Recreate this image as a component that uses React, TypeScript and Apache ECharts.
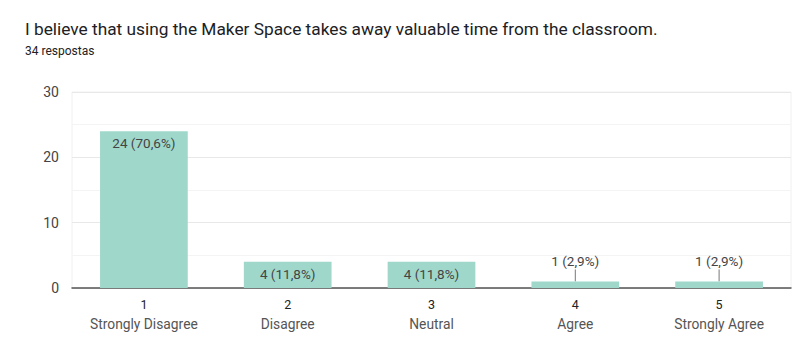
import React, { useEffect, useRef } from "react";
import * as echarts from "echarts";

const categories = ["1", "2", "3", "4", "5"];
const categoryNames = ["Strongly Disagree", "Disagree", "Neutral", "Agree", "Strongly Agree"];
const counts = [24, 4, 4, 1, 1];
const percents = ["70,6%", "11,8%", "11,8%", "2,9%", "2,9%"];
const yTicks = { min: 0, max: 30, interval: 10 };
const titleText = "I believe that using the Maker Space takes away valuable time from the classroom.";
const subtitleText = "34 respostas";

export default function App() {
  const ref = useRef<HTMLDivElement>(null);
  useEffect(() => {
    document.body.style.margin = "0";
    const chart = echarts.init(ref.current!, null, { renderer: "svg" });
    const small = (v: number) => v < 3;
    chart.setOption({
      animation: false,
      backgroundColor: "#ffffff",
      textStyle: { fontFamily: "Roboto" },
      title: [
        {
          text: titleText,
          left: 20,
          top: 15,
          textStyle: { fontSize: 17.3, fontWeight: "normal", color: "#202124", fontFamily: "Roboto" },
        },
        {
          text: subtitleText,
          left: 20,
          top: 40,
          textStyle: { fontSize: 12, fontWeight: "normal", color: "#202124", fontFamily: "Roboto" },
        },
      ],
      grid: { left: 72, right: 9, top: 92, bottom: 50, show: true, borderColor: "#f0f0f0", borderWidth: 1 },
      xAxis: {
        type: "category",
        data: categories,
        axisTick: { show: false },
        axisLine: { lineStyle: { color: "#555555", width: 1.5 } },
        axisLabel: {
          margin: 7,
          formatter: (v: string, i: number) => `{n|${v}}\n{t|${categoryNames[i]}}`,
          rich: {
            n: { fontSize: 12.5, color: "#222222", lineHeight: 19, fontFamily: "Roboto" },
            t: { fontSize: 13.8, color: "#555555", lineHeight: 19, fontFamily: "Roboto" },
          },
        },
      },
      yAxis: {
        type: "value",
        min: yTicks.min,
        max: yTicks.max,
        interval: yTicks.interval,
        axisLine: { show: false },
        axisTick: { show: false },
        axisLabel: { fontSize: 14, color: "#444444", margin: 13, fontFamily: "Roboto" },
        splitLine: { lineStyle: { color: "#e8e8e8", width: 1 } },
        minorTick: { show: false, splitNumber: 2 },
        minorSplitLine: { show: true, lineStyle: { color: "#f4f4f4", width: 1 } },
      },
      series: [
        {
          type: "bar",
          barWidth: "61%",
          itemStyle: { color: "#9fd8cb" },
          data: counts.map((v, i) => ({
            value: v,
            label: {
              show: true,
              position: small(v) ? "top" : "insideTop",
              distance: small(v) ? 13 : 5,
              formatter: `${v} (${percents[i]})`,
              fontSize: 13.5,
              color: "#444444",
              fontFamily: "Roboto",
            },
          })),
        },
        {
          type: "custom",
          silent: true,
          data: counts.map((v, i) => [i, v]),
          renderItem: (params: any, api: any) => {
            const v = api.value(1);
            if (!small(v)) return null;
            const p = api.coord([api.value(0), v]);
            return {
              type: "line",
              shape: { x1: p[0], y1: p[1], x2: p[0], y2: p[1] - 12 },
              style: { stroke: "#777777", lineWidth: 1 },
            };
          },
        },
      ],
    });
    return () => chart.dispose();
  }, []);
  return <div ref={ref} style={{ width: 800, height: 338 }} />;
}
